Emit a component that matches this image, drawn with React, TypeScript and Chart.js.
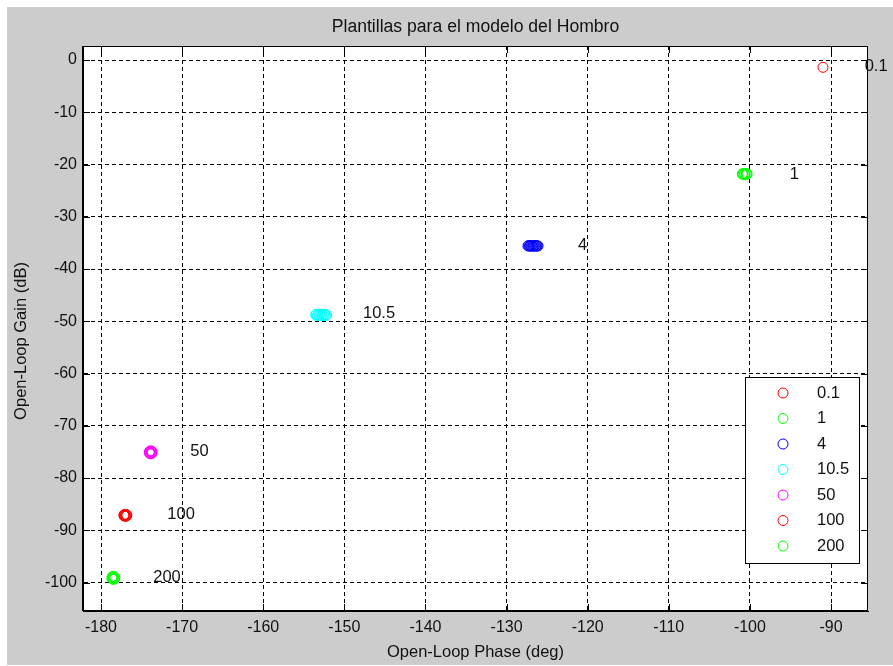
import React, { useEffect, useRef } from "react";
import { Chart, registerables } from "chart.js";

Chart.register(...registerables);

const chartTitle = "Plantillas para el modelo del Hombro";
const xTitle = "Open-Loop Phase (deg)";
const yTitle = "Open-Loop Gain (dB)";

const freqLabels = ["0.1", "1", "4", "10.5", "50", "100", "200"];
const seriesColors = ["#FF0000", "#00FF00", "#0000FF", "#00FFFF", "#FF00FF", "#FF0000", "#00FF00"];

// template contour points (phase deg, gain dB) per frequency
const phase01 = [-90.99];
const gain01 = [-1.4];
const phase1 = [-100.34, -100.43, -100.64, -100.85, -100.94, -100.85, -100.64, -100.43];
const gain1 = [-21.81, -21.74, -21.71, -21.74, -21.81, -21.88, -21.91, -21.88];
const phase4 = [-127.36, -127.27, -127.17, -127.08, -126.98, -126.89, -126.79, -126.7, -126.6, -126.5, -126.41, -126.31, -126.22, -126.12];
const gain4 = [-35.58, -35.52, -35.62, -35.55, -35.6, -35.53, -35.62, -35.56, -35.6, -35.52, -35.61, -35.55, -35.6, -35.58];
const phase105 = [-153.54, -153.44, -153.33, -153.23, -153.12, -153.02, -152.91, -152.81, -152.7, -152.6, -152.49, -152.39, -152.28, -152.18];
const gain105 = [-48.78, -48.66, -48.9, -48.7, -48.88, -48.65, -48.92, -48.68, -48.9, -48.66, -48.88, -48.7, -48.9, -48.78];
const phase50 = [-173.69, -173.74, -173.87, -174.0, -174.05, -174.0, -173.87, -173.74];
const gain50 = [-75.09, -74.89, -74.8, -74.89, -75.09, -75.29, -75.38, -75.29];
const phase100 = [-176.82, -176.87, -177.0, -177.13, -177.18, -177.13, -177.0, -176.87];
const gain100 = [-87.14, -87.01, -86.95, -87.01, -87.14, -87.27, -87.33, -87.27];
const phase200 = [-178.3, -178.35, -178.48, -178.61, -178.66, -178.61, -178.48, -178.35];
const gain200 = [-99.1, -98.9, -98.81, -98.9, -99.1, -99.3, -99.39, -99.3];

const seriesPhases = [phase01, phase1, phase4, phase105, phase50, phase100, phase200];
const seriesGains = [gain01, gain1, gain4, gain105, gain50, gain100, gain200];

// text annotations next to each template
const labelPhase = [-85.85, -95.1, -121.2, -147.7, -169.0, -171.83, -173.56];
const labelGain = [-1.3, -21.9, -35.4, -48.6, -74.95, -87.0, -98.95];

const xMin = -182.22;
const xMax = -85.44;
const yMin = -105.45;
const yMax = 2.68;
const tickStep = 10;

const FONT = "'Liberation Sans', Arial, sans-serif";
const TEXT_COLOR = "#111111";

const decorPlugin = {
  id: "decor",
  beforeDraw(chart: any) {
    const { ctx, chartArea: a, width, height } = chart;
    ctx.save();
    ctx.fillStyle = "#CCCCCC";
    ctx.fillRect(0, 0, width, height);
    ctx.fillStyle = "#FFFFFF";
    ctx.fillRect(a.left, a.top, a.right - a.left, a.bottom - a.top);
    ctx.restore();
  },
  afterDraw(chart: any) {
    const { ctx, chartArea: a } = chart;
    const xs = chart.scales.x;
    const ys = chart.scales.y;
    ctx.save();
    // box
    ctx.strokeStyle = "#000000";
    ctx.lineWidth = 1;
    ctx.setLineDash([]);
    ctx.strokeRect(Math.round(a.left) - 0.5, Math.round(a.top) + 0.5, Math.round(a.right - a.left), Math.round(a.bottom - a.top) - 1);
    // inward tick marks
    const tl = 7;
    ctx.beginPath();
    xs.ticks.forEach((t: any) => {
      const px = Math.round(xs.getPixelForValue(t.value)) + 0.5;
      ctx.moveTo(px, a.bottom);
      ctx.lineTo(px, a.bottom - tl);
      ctx.moveTo(px, a.top);
      ctx.lineTo(px, a.top + tl);
    });
    ys.ticks.forEach((t: any) => {
      const py = Math.round(ys.getPixelForValue(t.value)) + 0.5;
      ctx.moveTo(a.left, py);
      ctx.lineTo(a.left + tl, py);
      ctx.moveTo(a.right, py);
      ctx.lineTo(a.right - tl, py);
    });
    ctx.stroke();

    // titles
    ctx.fillStyle = TEXT_COLOR;
    ctx.textAlign = "center";
    ctx.textBaseline = "middle";
    const cx = (a.left + a.right) / 2;
    ctx.font = `17.6px ${FONT}`;
    ctx.fillText(chartTitle, cx, 20);
    ctx.font = `16.5px ${FONT}`;
    ctx.fillText(xTitle, cx, a.bottom + 41);
    ctx.save();
    ctx.translate(14, 334);
    ctx.rotate(-Math.PI / 2);
    ctx.fillText(yTitle, 0, 0);
    ctx.restore();

    // annotations
    ctx.font = `16.5px ${FONT}`;
    ctx.textAlign = "left";
    ctx.textBaseline = "middle";
    for (let i = 0; i < freqLabels.length; i++) {
      const px = xs.getPixelForValue(labelPhase[i]);
      const py = ys.getPixelForValue(labelGain[i]);
      ctx.fillText(freqLabels[i], px, py);
    }

    // legend
    const bw = 114;
    const bh = 186;
    const bx = Math.round(a.right) - 9 - bw;
    const by = Math.round(a.bottom) - 48 - bh;
    ctx.fillStyle = "#FFFFFF";
    ctx.fillRect(bx, by, bw, bh);
    ctx.strokeStyle = "#000000";
    ctx.lineWidth = 1;
    ctx.strokeRect(bx + 0.5, by + 0.5, bw, bh);
    for (let i = 0; i < freqLabels.length; i++) {
      const ry = by + 16 + i * 25.5;
      ctx.beginPath();
      ctx.strokeStyle = seriesColors[i];
      ctx.arc(bx + 38, ry, 5, 0, Math.PI * 2);
      ctx.stroke();
      ctx.fillStyle = TEXT_COLOR;
      ctx.fillText(freqLabels[i], bx + 72, ry);
    }
    ctx.restore();
  },
};

export default function App() {
  const ref = useRef<HTMLCanvasElement | null>(null);

  useEffect(() => {
    if (!ref.current) return;
    const datasets = freqLabels.map((lab, i) => ({
      label: lab,
      data: seriesPhases[i].map((p, j) => ({ x: p, y: seriesGains[i][j] })),
      borderColor: seriesColors[i],
      backgroundColor: "rgba(0,0,0,0)",
      pointBorderColor: seriesColors[i],
      pointBackgroundColor: "rgba(0,0,0,0)",
      pointRadius: 5,
      pointHoverRadius: 5,
      pointBorderWidth: 1,
      pointStyle: "circle" as const,
      showLine: false,
    }));

    const chart = new Chart(ref.current, {
      type: "scatter",
      data: { datasets },
      options: {
        responsive: false,
        animation: false,
        events: [],
        layout: { padding: { top: 39, right: 25, left: 0, bottom: 0 } },
        plugins: {
          legend: { display: false },
          tooltip: { enabled: false },
          title: { display: false },
        },
        scales: {
          x: {
            type: "linear",
            min: xMin,
            max: xMax,
            ticks: {
              stepSize: tickStep,
              includeBounds: false,
              padding: 7,
              color: TEXT_COLOR,
              font: { family: FONT, size: 16 },
              maxRotation: 0,
              autoSkip: false,
            },
            grid: { color: "#000000", lineWidth: 1, drawTicks: false },
            border: { display: true, color: "#000000", width: 1, dash: [4, 3] },
            afterFit: (s: any) => {
              s.height = 54;
            },
          },
          y: {
            type: "linear",
            min: yMin,
            max: yMax,
            ticks: {
              stepSize: tickStep,
              includeBounds: false,
              padding: 6,
              color: TEXT_COLOR,
              font: { family: FONT, size: 16 },
              autoSkip: false,
            },
            grid: { color: "#000000", lineWidth: 1, drawTicks: false },
            border: { display: true, color: "#000000", width: 1, dash: [4, 3] },
            afterFit: (s: any) => {
              s.width = 76;
            },
          },
        },
      },
      plugins: [decorPlugin],
    });
    return () => chart.destroy();
  }, []);

  return (
    <div style={{ position: "fixed", left: 7, top: 7, width: 886, height: 658 }}>
      <canvas ref={ref} width={886} height={658} style={{ display: "block" }} />
    </div>
  );
}
